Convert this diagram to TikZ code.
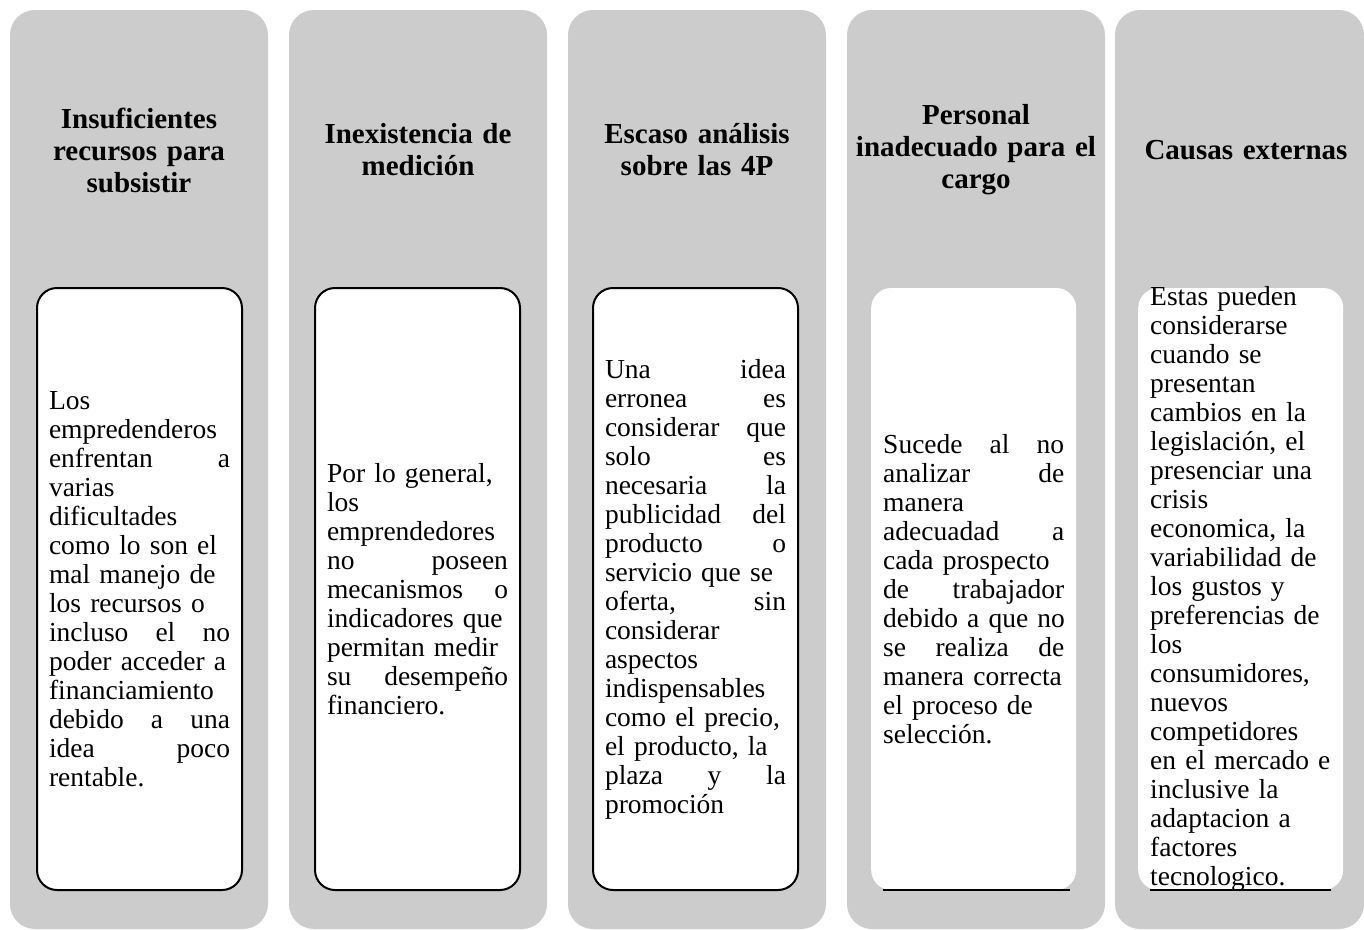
\documentclass[tikz,border=0pt]{standalone}
\usepackage{fontspec}
\setmainfont{Liberation Serif}
\usepackage{tikz}
\usetikzlibrary{shapes,positioning}
\definecolor{colgray}{RGB}{204,204,204}
\newcommand{\jl}[1]{\makebox[181pt][s]{\spaceskip=0pt\xspaceskip=0pt #1}}
\newcommand{\nohyph}{\hyphenpenalty=10000 \exhyphenpenalty=10000\relax}
\tikzstyle{column} = [fill=colgray, rounded corners=25pt]
\tikzstyle{title} = [text width=250pt, align=center, font=\fontsize{29}{32}\selectfont\bfseries]
\tikzstyle{card} = [rectangle, rounded corners=20pt, minimum width=205pt, minimum height=602pt, fill=white, inner sep=0pt]
\tikzstyle{framed} = [card, draw=black, line width=2pt]
\tikzstyle{body} = [text width=181pt, align=left, inner sep=0pt, font=\fontsize{27.5}{29}\selectfont\nohyph]
\tikzstyle{rule} = [line width=2pt]

\begin{document}
\begin{tikzpicture}[x=1pt, y=-1pt]
\useasboundingbox (0,0) rectangle (1364,929);
%
% Background columns
%
\fill [column] (10,10) rectangle (268,929);
\fill [column] (289,10) rectangle (547,929);
\fill [column] (568,10) rectangle (826,929);
\fill [column] (847,10) rectangle (1105,929);
\fill [column] (1115,10) rectangle (1364,929);
%
% Define nodes
%
\node (head1) [title] at (139,150) {Insuficientes\\ recursos para\\ subsistir};
\node (head2) [title] at (418,150) {Inexistencia de\\ medición};
\node (head3) [title] at (697,150) {Escaso análisis\\ sobre las 4P};
\node (head4) [title] at (976,150) {Personal\\ inadecuado para el\\ cargo};
\node (head5) [title] at (1246,150) {Causas externas};

\node (card1) [framed] at (139.5,589) {};
\node (card2) [framed, right=71pt of card1] {};
\node (card3) [framed, right=71pt of card2] {};
\node (card4) [card, right=72pt of card3] {};
\node (card5) [card, right=61.6pt of card4] {};

\node (text1) [body] at (card1.center) {Los\\ empredenderos\\ \jl{enfrentan a}\\ varias\\ dificultades\\ como lo son el\\ mal manejo de\\ los recursos o\\ \jl{incluso el no}\\ poder acceder a\\ financiamiento\\ \jl{debido a una}\\ \jl{idea poco}\\ rentable.};
\node (text2) [body] at (card2.center) {Por lo general,\\ los\\ emprendedores\\ \jl{no poseen}\\ \jl{mecanismos o}\\ indicadores que\\ permitan medir\\ \jl{su desempeño}\\ financiero.};
\node (text3) [body] at (card3.center) {\jl{Una idea}\\ \jl{erronea es}\\ \jl{considerar que}\\ \jl{solo es}\\ \jl{necesaria la}\\ \jl{publicidad del}\\ \jl{producto o}\\ servicio que se\\ \jl{oferta, sin}\\ considerar\\ aspectos\\ indispensables\\ como el precio,\\ el producto, la\\ \jl{plaza y la}\\ promoción};
\node (text4) [body] at (card4.center) {\jl{Sucede al no}\\ \jl{analizar de}\\ manera\\ \jl{adecuadad a}\\ cada prospecto\\ \jl{de trabajador}\\ \mbox{debido a que no}\\ \jl{se realiza de}\\ manera correcta\\ el proceso de\\ selección.};
\node (text5) [body] at (card5.center) {Estas pueden\\ considerarse\\ cuando se\\ presentan\\ cambios en la\\ legislación, el\\ presenciar una\\ crisis\\ economica, la\\ variabilidad de\\ los gustos y\\ preferencias de\\ los\\ consumidores,\\ nuevos\\ competidores\\ en el mercado e\\ inclusive la\\ adaptacion a\\ factores\\ tecnologico.};
%
% Underlines
%
\draw [rule] ([xshift=12pt]card4.south west) -- ([xshift=-6pt]card4.south east);
\draw [rule] ([xshift=12pt]card5.south west) -- ([xshift=-12pt]card5.south east);
\end{tikzpicture}
\end{document}
